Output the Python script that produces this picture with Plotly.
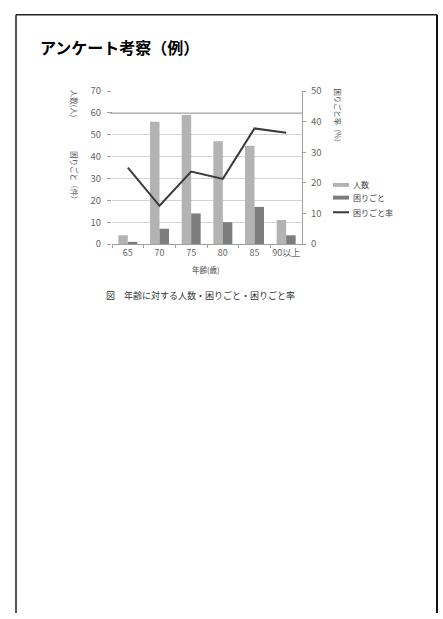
import plotly.graph_objects as go

# ---- data ----
ages = ["65", "70", "75", "80", "85", "90以上"]
people = [4, 56, 59, 47, 45, 11]          # 人数（人）
troubles = [1, 7, 14, 10, 17, 4]          # 困りごと（件）
trouble_rate = [25.0, 12.5, 23.7, 21.3, 37.8, 36.4]  # 困りごと率（%）

left_ticks = [0, 10, 20, 30, 40, 50, 60, 70]
right_ticks = [0, 10, 20, 30, 40, 50]

W, H = 443, 619
FONT = "Noto Sans CJK JP"
C_PEOPLE = "#b3b3b3"
C_TROUBLE = "#7d7d7d"
C_RATE = "#3a3a3a"
C_TICK = "#666666"


def px(x):
    return x / W


def py(y):
    return 1 - y / H


fig = go.Figure()
fig.add_trace(go.Bar(x=ages, y=people, name="人数", marker_color=C_PEOPLE,
                     marker_line_width=0, yaxis="y"))
fig.add_trace(go.Bar(x=ages, y=troubles, name="困りごと", marker_color=C_TROUBLE,
                     marker_line_width=0, yaxis="y"))
fig.add_trace(go.Scatter(x=ages, y=trouble_rate, name="困りごと率", mode="lines",
                         line=dict(color=C_RATE, width=2), yaxis="y2"))

plot_left, plot_right = 112, 302
plot_top, plot_bottom = 85, 241.5

fig.update_layout(
    width=W, height=H,
    margin=dict(l=0, r=0, t=0, b=0),
    paper_bgcolor="white", plot_bgcolor="white",
    showlegend=False,
    barmode="group", bargap=0.4, bargroupgap=0,
    font=dict(family=FONT, size=9, color=C_TICK),
    xaxis=dict(
        domain=[px(plot_left), px(plot_right)],
        type="category",
        showline=True, linecolor="#a0a0a0", linewidth=1,
        ticks="outside", tickson="boundaries", ticklen=3, tickcolor="#a0a0a0",
        tickangle=0,
        tickfont=dict(size=9, color=C_TICK),
        showgrid=False, zeroline=False,
    ),
    yaxis=dict(
        domain=[py(plot_bottom), py(plot_top)],
        range=[0, 70], tickvals=left_ticks,
        showgrid=True, gridcolor="#d4d4d4", gridwidth=1,
        showline=False, zeroline=False,
        ticks="outside", ticklen=4, tickcolor="#a0a0a0",
        ticklabelstandoff=4,
        tickfont=dict(size=9.5, color=C_TICK),
    ),
    yaxis2=dict(
        overlaying="y", side="right", anchor="x",
        range=[0, 50], tickvals=right_ticks,
        showgrid=False, zeroline=False,
        showline=True, linecolor="#a0a0a0", linewidth=1,
        ticks="outside", ticklen=3, tickcolor="#a0a0a0",
        ticklabelstandoff=3,
        tickfont=dict(size=9.5, color=C_TICK),
    ),
)

shapes = []
# darker reference line at 60
shapes.append(dict(type="line", xref="paper", yref="y", x0=px(110), x1=px(plot_right),
                   y0=60, y1=60, line=dict(color="#505050", width=1), layer="below"))

# page frame
shapes.append(dict(type="line", xref="paper", yref="paper", x0=px(16), x1=px(16),
                   y0=py(7), y1=0, line=dict(color="#555555", width=2)))
shapes.append(dict(type="line", xref="paper", yref="paper", x0=px(16), x1=px(437),
                   y0=py(7), y1=py(7), line=dict(color="#222222", width=1.5)))
shapes.append(dict(type="line", xref="paper", yref="paper", x0=px(437), x1=px(437),
                   y0=py(7), y1=0, line=dict(color="#111111", width=2)))

# legend keys
shapes.append(dict(type="rect", xref="paper", yref="paper", x0=px(333), x1=px(349),
                   y0=py(183), y1=py(179), fillcolor=C_PEOPLE, line=dict(width=0)))
shapes.append(dict(type="rect", xref="paper", yref="paper", x0=px(333), x1=px(349),
                   y0=py(196), y1=py(192), fillcolor=C_TROUBLE, line=dict(width=0)))
shapes.append(dict(type="line", xref="paper", yref="paper", x0=px(333), x1=px(349),
                   y0=py(209), y1=py(209), line=dict(color=C_RATE, width=2)))

annotations = []


def text(x, y, s, size=8, color="#444444", xanchor="left", yanchor="middle",
         bold=False, angle=0):
    annotations.append(dict(
        xref="paper", yref="paper", x=px(x), y=py(y), text=f"<b>{s}</b>" if bold else s,
        showarrow=False, xanchor=xanchor, yanchor=yanchor, textangle=angle,
        font=dict(family=FONT, size=size, color=color)))


# title
text(38, 40, "アンケート考察（例）", size=16, color="#000000", bold=True)

# axis titles, written top-to-bottom
text(74.5, 97.5, "人数(人)", size=7.5, color="#555555", xanchor="center", angle=90)
text(74.5, 173.5, "困りごと（件）", size=7.5, color="#555555", xanchor="center", angle=90)
text(338, 112, "困りごと率（%）", size=7.3, color="#555555", xanchor="center", angle=90)
text(206, 268, "年齢(歳)", size=7.5, color="#444444", xanchor="center")

# legend labels
text(351, 181, "人数", size=8)
text(351, 194, "困りごと", size=8)
text(351, 209, "困りごと率", size=8)

# caption
text(200, 294, "図　年齢に対する人数・困りごと・困りごと率", size=9, color="#333333",
     xanchor="center")

fig.update_layout(shapes=shapes, annotations=annotations)
fig.write_html("out.html")
